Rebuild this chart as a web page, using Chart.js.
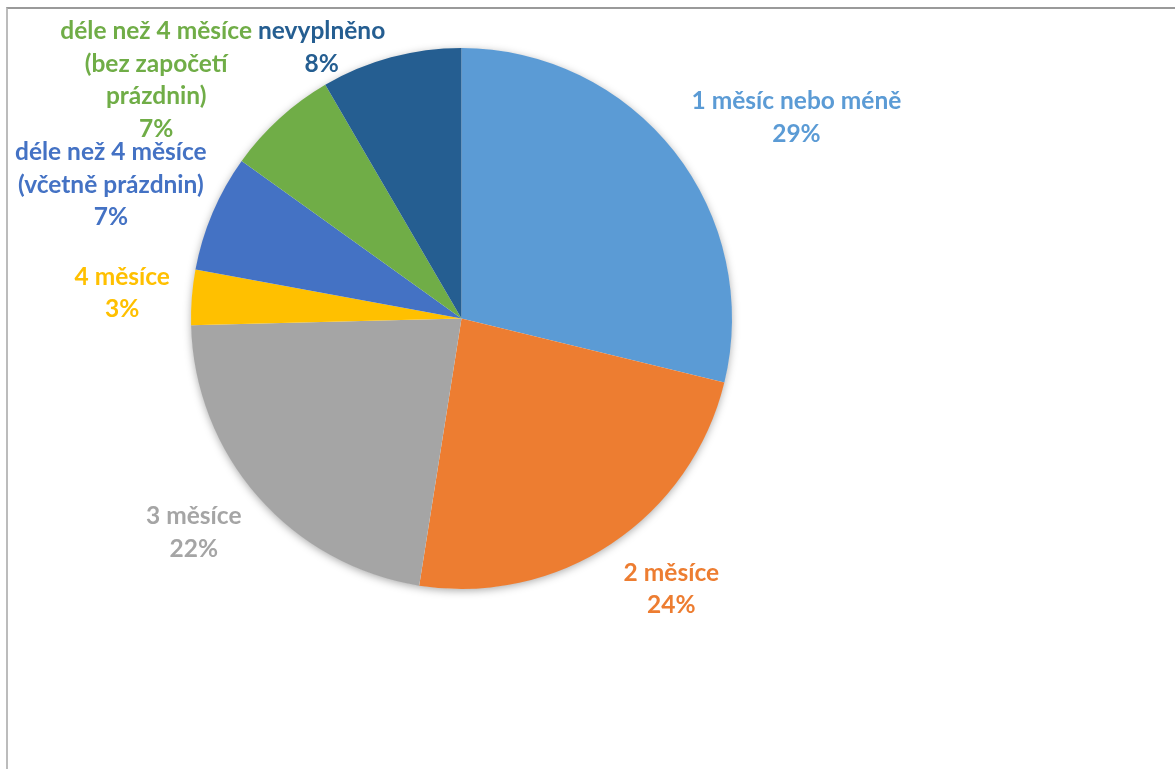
<!DOCTYPE html>
<html>
<head>
<meta charset="utf-8">
<script src="https://cdn.jsdelivr.net/npm/chart.js@4"></script>
<style>
  html, body { margin: 0; padding: 0; background: #fff; overflow: hidden; }
  .frame {
    position: absolute; left: 6px; top: 7px; width: 1300px; height: 900px;
    border-top: 2px solid #9a9a9a; border-left: 2px solid #bcbcbc;
  }
  #pie { position: absolute; left: 0; top: 0; }
</style>
</head>
<body>
<div class="frame"></div>
<canvas id="pie" width="1175" height="769"></canvas>
<script>
// délka praxe - podíly odpovědí v procentech
const categories = [
  ["1 měsíc nebo méně"],
  ["2 měsíce"],
  ["3 měsíce"],
  ["4 měsíce"],
  ["déle než 4 měsíce", "(včetně prázdnin)"],
  ["déle než 4 měsíce", "(bez započetí", "prázdnin)"],
  ["nevyplněno"]
];
const shares = [28.8, 23.7, 22.1, 3.3, 7.0, 6.7, 8.4];
const colors = ["#5B9BD5", "#ED7D31", "#A5A5A5", "#FFC000", "#4472C4", "#70AD47", "#255E91"];

const labelFont = 'bold 24.5px Lato';
const lineH = 32.5;
const labelGap = 22;
const minTop = 15;
const minLeft = 15;

// soft shadow under the whole pie
const pieShadow = {
  id: 'pieShadow',
  beforeDatasetsDraw(chart) {
    const arc = chart.getDatasetMeta(0).data[0];
    if (!arc) return;
    const ctx = chart.ctx;
    ctx.save();
    ctx.shadowColor = 'rgba(0,0,0,0.35)';
    ctx.shadowBlur = 9;
    ctx.shadowOffsetY = 2;
    ctx.fillStyle = '#fff';
    ctx.beginPath();
    ctx.arc(arc.x, arc.y, arc.outerRadius - 0.5, 0, Math.PI * 2);
    ctx.fill();
    ctx.restore();
  }
};

// labels outside each slice: name + rounded percentage
const sliceLabels = {
  id: 'sliceLabels',
  afterDatasetsDraw(chart) {
    const ctx = chart.ctx;
    const data = chart.data.datasets[0].data;
    const total = data.reduce((a, b) => a + b, 0);
    ctx.save();
    ctx.font = labelFont;
    ctx.textAlign = 'center';
    ctx.textBaseline = 'middle';

    const boxes = chart.getDatasetMeta(0).data.map((arc, i) => {
      const lines = chart.data.labels[i].concat(Math.round(data[i] / total * 100) + '%');
      const w = Math.max(...lines.map(l => ctx.measureText(l).width));
      const h = lines.length * lineH;
      const mid = (arc.startAngle + arc.endAngle) / 2;
      const dx = Math.cos(mid), dy = Math.sin(mid);
      const px = arc.x + (arc.outerRadius + labelGap) * dx;
      const py = arc.y + (arc.outerRadius + labelGap) * dy;
      let cx = dx >= 0 ? px + w / 2 : px - w / 2;
      let cy = py + dy * h / 2;
      cy = Math.max(cy, minTop + h / 2);
      cx = Math.max(cx, minLeft + w / 2);
      // visible text extent, from first to last line
      const half = (lines.length - 1) * lineH / 2 + 10;
      return { lines, w, cx, cy, top: cy - half, bottom: cy + half, left: dx < 0 };
    });

    // push left-side labels away from the next label if they collide
    for (let i = boxes.length - 2; i >= 0; i--) {
      const a = boxes[i], b = boxes[i + 1];
      if (!a.left || !b.left) continue;
      const overlapY = a.top < b.bottom && b.top < a.bottom;
      const overlapX = (a.cx + a.w / 2) - (b.cx - b.w / 2) + 6;
      if (overlapY && overlapX > 0) a.cx = Math.max(a.cx - overlapX, minLeft + a.w / 2);
    }

    boxes.forEach((b, i) => {
      ctx.fillStyle = colors[i];
      b.lines.forEach((l, k) => {
        ctx.fillText(l, b.cx, b.cy + (k - (b.lines.length - 1) / 2) * lineH);
      });
    });
    ctx.restore();
  }
};

new Chart(document.getElementById('pie'), {
  type: 'pie',
  data: {
    labels: categories,
    datasets: [{
      data: shares,
      backgroundColor: colors,
      borderWidth: 0
    }]
  },
  options: {
    responsive: false,
    animation: false,
    layout: { padding: { left: 191, right: 443, top: 48, bottom: 180 } },
    plugins: { legend: { display: false }, tooltip: { enabled: false } }
  },
  plugins: [pieShadow, sliceLabels]
});
</script>
</body>
</html>
